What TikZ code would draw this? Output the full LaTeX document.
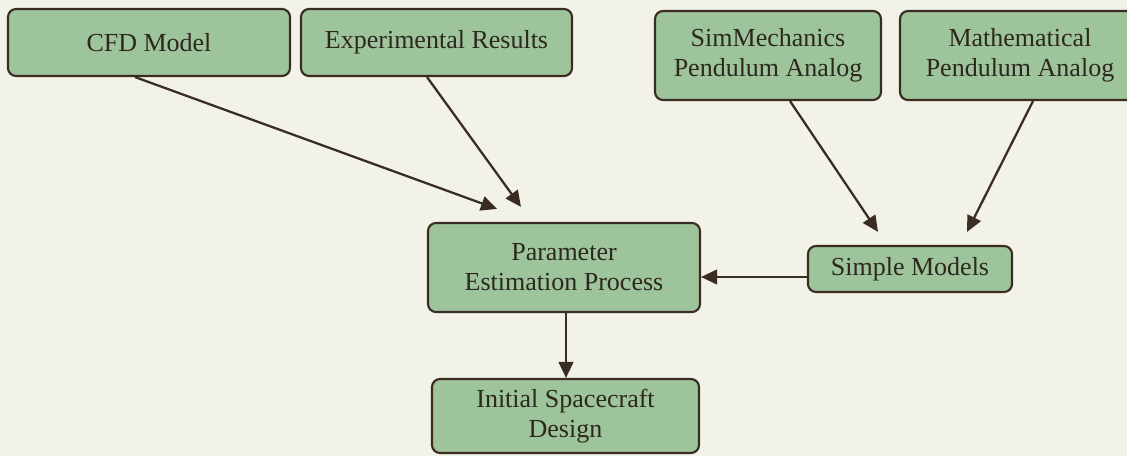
\documentclass[tikz,border=0pt]{standalone}
\usepackage{fontspec}
\setmainfont{Liberation Serif}
\usetikzlibrary{calc,arrows.meta}
\definecolor{bg}{RGB}{242,242,232}
\definecolor{boxfill}{RGB}{157,196,155}
\definecolor{edge}{RGB}{58,44,34}
\definecolor{ink}{RGB}{45,40,30}
\tikzset{
  box/.style={draw=edge, fill=boxfill, line width=1.6pt, rounded corners=6pt,
    align=center, inner sep=0pt, text=ink,
    font=\fontsize{19.5}{22.5}\selectfont},
  arr/.style={draw=edge, line width=1.7pt, -{Triangle[length=12pt,width=11pt]}}
}
\begin{document}
\begin{tikzpicture}[x=0.75pt,y=-0.75pt]
\clip (0,0) rectangle (1127,456);
\fill[bg] (0,0) rectangle (1127,456);
\node[box, minimum width=282*0.75pt, minimum height=67*0.75pt] (cfd) at (149,42.5) {CFD Model};
\node[box, minimum width=271*0.75pt, minimum height=67*0.75pt] (exp) at (436.5,42.5) {Experimental Results};
\node[box, minimum width=226*0.75pt, minimum height=89*0.75pt] (sim) at (768,55.5) {SimMechanics\\Pendulum Analog};
\node[box, minimum width=240*0.75pt, minimum height=89*0.75pt] (math) at (1020,55.5) {Mathematical\\Pendulum Analog};
\node[box, minimum width=272*0.75pt, minimum height=89*0.75pt] (param) at (564,267.5) {Parameter\\Estimation Process};
\node[box, minimum width=267*0.75pt, minimum height=74*0.75pt] (init) at (565.5,416) {Initial Spacecraft\\Design};
\node[box, minimum width=204*0.75pt, minimum height=46*0.75pt] (simple) at (910,269) {Simple Models};
\coordinate (pa) at ($(param.north)+(-67,-13)$);
\coordinate (pb) at ($(param.north)+(-43,-15)$);
\coordinate (sa) at ($(simple.north)+(-32,-13)$);
\coordinate (sb) at ($(simple.north)+(57,-13)$);
\draw[arr] ($(cfd.south)+(-14,0)$) -- (pa);
\draw[arr] ($(exp.south)+(-9.5,0)$) -- (pb);
\draw[arr] ($(sim.south)+(22,0)$) -- (sa);
\draw[arr] ($(math.south)+(13,0)$) -- (sb);
\coordinate (sw) at ($(simple.west)+(0,8)$);
\draw[arr] (sw) -- (sw -| param.east);
\coordinate (pd) at ($(param.south)+(2,0)$);
\draw[arr] (pd) -- (pd |- init.north);
\end{tikzpicture}
\end{document}
